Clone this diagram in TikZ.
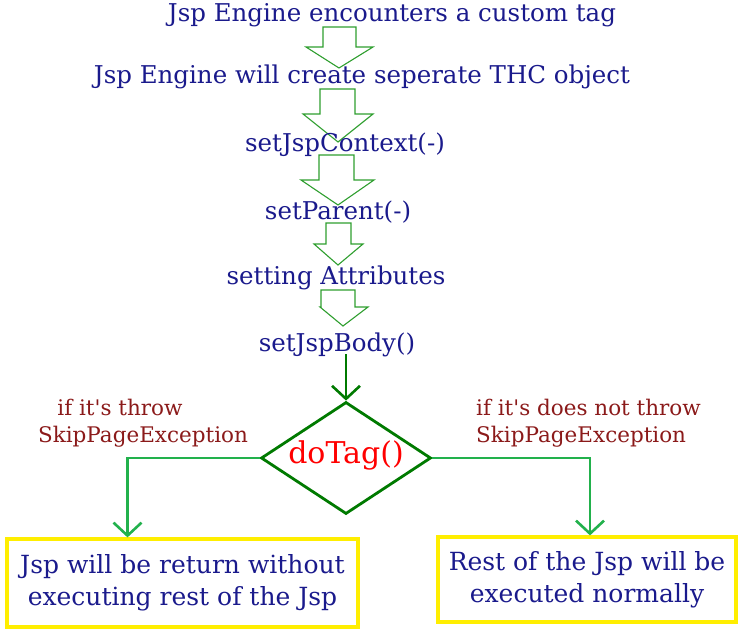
\documentclass[tikz,border=0pt]{standalone}
\usepackage{fontspec}
\setmainfont{DejaVu Serif}
\newfontfamily\rawserif{DejaVu Serif}
\usetikzlibrary{shapes.geometric,arrows.meta}
\definecolor{navy}{HTML}{1A1A8C}
\definecolor{darkred}{HTML}{8B1A1A}
\definecolor{bagreen}{HTML}{2E9E2E}
\definecolor{dgreen}{HTML}{007A00}
\definecolor{lgreen}{HTML}{22B14C}
\definecolor{boxyellow}{HTML}{FFEE00}
\tikzset{
  steptext/.style={text=navy,font=\fontsize{24.5}{28}\selectfont,inner sep=0pt},
  lbl/.style={text=darkred,font=\rawserif\fontsize{21.5}{24}\selectfont,inner sep=0pt},
  blockarrow/.style={draw=bagreen,line width=1.1pt,line join=miter},
  result/.style={draw=boxyellow,line width=3.2pt,text=navy,font=\fontsize{25}{32}\selectfont,align=center,inner sep=0pt},
  flowline/.style={line width=2.6pt,-{Straight Barb[length=13pt,width=28pt,line width=2.6pt]}},
}
\begin{document}
\begin{tikzpicture}[x=1pt,y=-1pt]
\useasboundingbox (0,0) rectangle (746,644);
% block arrows
\draw[blockarrow] (323,27) -- (356,27) -- (356,47) -- (373,47) -- (339,68) -- (306,47) -- (323,47) -- cycle;
\draw[blockarrow] (320,89) -- (355,89) -- (355,114) -- (373,114) -- (338,142) -- (303,114) -- (320,114) -- cycle;
\draw[blockarrow] (319,155) -- (354,155) -- (354,180) -- (374,180) -- (338,205) -- (301,180) -- (319,180) -- cycle;
\draw[blockarrow] (326,223) -- (351,223) -- (351,244) -- (363,244) -- (338,265) -- (314,244) -- (326,244) -- cycle;
\draw[blockarrow] (321,290) -- (355,290) -- (355,307) -- (368,307) -- (343,326) -- (320,307) -- (321,307) -- cycle;
% step texts
\node[steptext] (t1) at (392,15) {Jsp Engine encounters a custom tag};
\node[steptext] (t2) at (362,77) {Jsp Engine will create seperate THC object};
\node[steptext] (t3) at (345,145) {setJspContext(-)};
\node[steptext] (t4) at (338,212) {setParent(-)};
\node[steptext] (t5) at (336,278) {setting Attributes};
\node[steptext] (t6) at (337,345) {setJspBody()};
% diamond
\node[diamond,draw=dgreen,line width=2.8pt,minimum width=170pt,minimum height=112pt,inner sep=0pt] (dia) at (346,458) {};
\node[text=red,font=\fontsize{30}{32}\selectfont,inner sep=0pt] (dtxt) at (346,455) {doTag()};
% result boxes
\node[result,minimum width=351pt,minimum height=88pt] (lbox) at (182.5,583) {Jsp will be return without\\executing rest of the Jsp};
\node[result,minimum width=298pt,minimum height=85pt] (rbox) at (587,579.5) {Rest of the Jsp will be\\executed normally};
% labels
\node[lbl] (l1a) at (120,407) {if it's throw};
\node[lbl] (l1b) at (143,437) {SkipPageException};
\node[lbl,anchor=west] (l2a) at (476,407) {if it's does not throw};
\node[lbl,anchor=west] (l2b) at (476,437) {SkipPageException};
% connectors
\draw[flowline,dgreen] ([yshift=3pt]t6.south -| dia.north) -- (dia.north);
\draw[flowline,lgreen] (dia.west) -| ([xshift=-55pt]lbox.north);
\draw[flowline,lgreen] (dia.east) -| ([xshift=3pt]rbox.north);
\end{tikzpicture}
\end{document}
